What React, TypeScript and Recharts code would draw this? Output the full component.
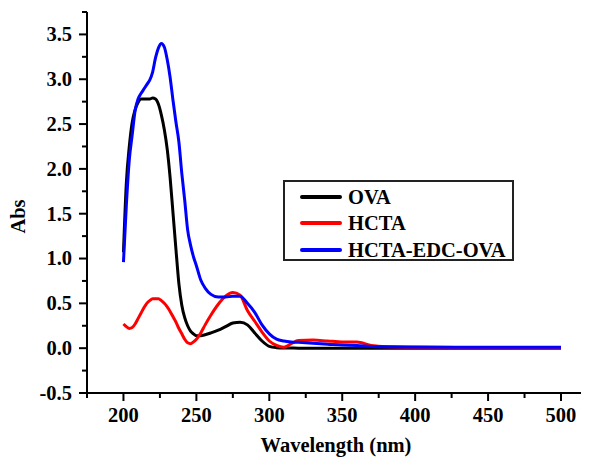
import { LineChart, Line, XAxis, YAxis, Legend } from 'recharts';

const FONT = 'Liberation Serif, DejaVu Serif, serif';

// wavelength (nm) sample points
const wavelengths = [
  200, 202, 204, 206, 208, 210, 212, 214, 216, 218, 220, 222, 224, 226, 228, 230,
  232, 234, 236, 238, 240, 242, 244, 246, 248, 250, 253, 256, 260, 265, 270, 275,
  280, 285, 290, 295, 300, 305, 310, 315, 320, 330, 340, 350, 360, 370, 380, 400,
  450, 500,
];

const ova = [
  1.07, 1.85, 2.25, 2.52, 2.66, 2.74, 2.78, 2.78, 2.78, 2.78, 2.79, 2.78, 2.72, 2.6, 2.44, 2.22,
  1.9, 1.5, 1.1, 0.72, 0.48, 0.34, 0.25, 0.19, 0.16, 0.14, 0.14, 0.15, 0.17, 0.2, 0.24, 0.28,
  0.29, 0.26, 0.17, 0.08, 0.02, 0.006, 0.002, 0.001, 0, 0, 0, 0, 0, 0, 0, 0,
  0, 0,
];

const hcta = [
  0.27, 0.24, 0.22, 0.23, 0.27, 0.33, 0.39, 0.45, 0.5, 0.53, 0.55, 0.55, 0.55, 0.53, 0.5, 0.46,
  0.41, 0.35, 0.29, 0.22, 0.16, 0.1, 0.06, 0.05, 0.07, 0.1, 0.17, 0.26, 0.37, 0.49, 0.58, 0.62,
  0.59, 0.42, 0.3, 0.18, 0.08, 0.03, 0.01, 0.05, 0.085, 0.09, 0.08, 0.07, 0.07, 0.03, 0.015, 0.01,
  0.005, 0,
];

const hctaEdcOva = [
  0.96, 1.6, 2.1, 2.38, 2.65, 2.78, 2.84, 2.89, 2.94, 2.99, 3.08, 3.24, 3.35, 3.4, 3.36, 3.22,
  3.02, 2.76, 2.52, 2.3, 1.95, 1.65, 1.32, 1.15, 1.02, 0.92, 0.76, 0.67, 0.6, 0.57, 0.57, 0.58,
  0.58, 0.5, 0.4, 0.26, 0.16, 0.1, 0.08, 0.07, 0.065, 0.055, 0.045, 0.035, 0.03, 0.02, 0.015, 0.012,
  0.01, 0.01,
];

const seriesNames = ['OVA', 'HCTA', 'HCTA-EDC-OVA'];

const xTicks = [175, 200, 225, 250, 275, 300, 325, 350, 375, 400, 425, 450, 475, 500];
const yTicks = [
  -0.5, -0.25, 0, 0.25, 0.5, 0.75, 1, 1.25, 1.5, 1.75, 2, 2.25, 2.5, 2.75, 3, 3.25, 3.5, 3.75,
];

const data = wavelengths.map((wl, i) => ({
  wl,
  ova: ova[i],
  hcta: hcta[i],
  conj: hctaEdcOva[i],
}));

const XTick = ({ x, y, payload }: any) => {
  const major = payload.value % 50 === 0;
  return (
    <g>
      <line x1={x} x2={x} y1={y} y2={y + (major ? 8 : 5)} stroke="#000" strokeWidth={2} />
      {major && (
        <text x={x} y={y + 29} textAnchor="middle" fontFamily={FONT} fontWeight="bold" fontSize={20.5} fill="#000">
          {payload.value}
        </text>
      )}
    </g>
  );
};

const YTick = ({ x, y, payload }: any) => {
  const v = payload.value;
  const major = Math.abs(v * 2 - Math.round(v * 2)) < 1e-6;
  return (
    <g>
      <line x1={x} x2={x - (major ? 8 : 5)} y1={y} y2={y} stroke="#000" strokeWidth={2} />
      {major && (
        <text x={x - 15} y={y + 6.8} textAnchor="end" fontFamily={FONT} fontWeight="bold" fontSize={20.5} fill="#000">
          {v.toFixed(1)}
        </text>
      )}
    </g>
  );
};

const XTitle = ({ viewBox }: any) => (
  <text
    x={viewBox.x + viewBox.width / 2 - 2}
    y={viewBox.y + 58.5}
    textAnchor="middle"
    fontFamily={FONT}
    fontWeight="bold"
    fontSize={20.5}
    fill="#000"
  >
    Wavelength (nm)
  </text>
);

const YTitle = ({ viewBox }: any) => {
  const cx = viewBox.x + 17;
  const cy = viewBox.y + viewBox.height / 2 + 14;
  return (
    <text
      x={cx}
      y={cy}
      transform={`rotate(-90 ${cx} ${cy})`}
      textAnchor="middle"
      fontFamily={FONT}
      fontWeight="bold"
      fontSize={20.5}
      fill="#000"
    >
      Abs
    </text>
  );
};

const LegendBox = ({ payload }: any) => {
  const items = [...(payload || [])].sort(
    (a: any, b: any) => seriesNames.indexOf(a.value) - seriesNames.indexOf(b.value)
  );
  return (
    <div
      style={{
        width: 231,
        height: 81,
        boxSizing: 'border-box',
        border: '2px solid #222',
        background: '#fff',
        paddingTop: 1.5,
        fontFamily: FONT,
        fontWeight: 'bold',
        fontSize: 20.5,
        color: '#000',
      }}
    >
      {items.map((p: any) => (
        <div key={p.value} style={{ display: 'flex', alignItems: 'center', height: 26.6 }}>
          <span style={{ width: 42, height: 4, borderRadius: 2, background: p.color, marginLeft: 15, marginRight: 6 }} />
          <span style={{ lineHeight: 1 }}>{p.value}</span>
        </div>
      ))}
    </div>
  );
};

export default function App() {
  return (
    <LineChart width={581} height={450} data={data} margin={{ top: 4, right: 0, bottom: 5, left: 0 }}>
      <XAxis
        dataKey="wl"
        type="number"
        domain={[175, 519.2]}
        ticks={xTicks}
        interval={0}
        tickSize={0}
        tickMargin={0}
        tick={<XTick />}
        height={60}
        axisLine={{ stroke: '#000', strokeWidth: 2 }}
        allowDataOverflow
        label={{ content: XTitle }}
      />
      <YAxis
        type="number"
        domain={[-0.5, 3.75]}
        ticks={yTicks}
        interval={0}
        tickSize={0}
        tickMargin={0}
        tick={<YTick />}
        width={79}
        axisLine={{ stroke: '#000', strokeWidth: 2 }}
        allowDataOverflow
        label={{ content: YTitle }}
      />
      <Legend
        layout="horizontal"
        verticalAlign="middle"
        align="center"
        content={LegendBox}
        wrapperStyle={{ left: 275, top: 172, width: 231, height: 81 }}
      />
      <Line type="monotone" dataKey="ova" name="OVA" stroke="#000000" strokeWidth={3} dot={false} isAnimationActive={false} />
      <Line type="monotone" dataKey="hcta" name="HCTA" stroke="#ff0000" strokeWidth={3} dot={false} isAnimationActive={false} />
      <Line type="monotone" dataKey="conj" name="HCTA-EDC-OVA" stroke="#0000ff" strokeWidth={3} dot={false} isAnimationActive={false} />
    </LineChart>
  );
}
